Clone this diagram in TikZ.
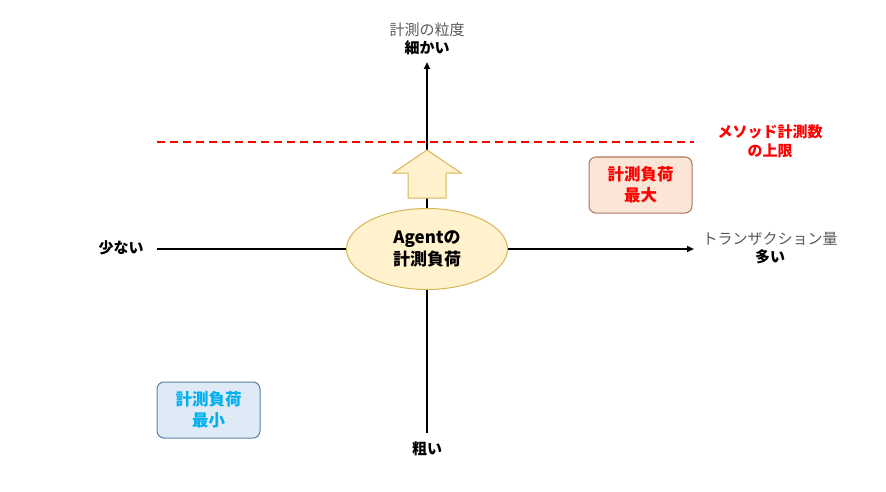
\documentclass[tikz,border=0pt]{standalone}
\usepackage{fontspec}
\setmainfont{Noto Sans CJK JP}
\usetikzlibrary{arrows.meta,shapes.geometric}
\definecolor{yfill}{HTML}{FFF2CC}
\definecolor{ydraw}{HTML}{D6B656}
\definecolor{rfill}{HTML}{FBE5D6}
\definecolor{rdraw}{HTML}{A9765C}
\definecolor{bfill}{HTML}{DEEBF7}
\definecolor{bdraw}{HTML}{5B7FA6}
\definecolor{cyantext}{HTML}{00B0F0}
\definecolor{redtext}{HTML}{FF0000}
\definecolor{graytext}{HTML}{595959}
\tikzset{
  axis/.style={line width=1.8pt,-{Triangle[length=7pt,width=6pt]}},
  lbl/.style={font=\fontsize{15}{18}\selectfont,align=center,inner sep=0pt},
  blbl/.style={lbl,font=\fontsize{15}{18}\selectfont\bfseries},
  quad/.style={rounded corners=7pt,line width=1pt,minimum width=103pt,minimum height=56pt,align=center,font=\fontsize{16.5}{21}\selectfont\bfseries,inner sep=0pt}
}
\begin{document}
\begin{tikzpicture}[x=1pt,y=-1pt]
\useasboundingbox (0,0) rectangle (886,492);
% nodes for axis ends
\coordinate (vbot) at (427,433);
\coordinate (vtop) at (427,62);
\coordinate (hleft) at (157,249);
\coordinate (hright) at (694,249);
\coordinate (dl) at (157,142);
\coordinate (dr) at (694,142);
% axes
\draw[axis] (vbot) -- (vtop);
\draw[axis] (hleft) -- (hright);
% dashed limit
\draw[redtext,line width=1.5pt,dash pattern=on 8pt off 5pt] (dl) -- (dr);
% block arrow
\draw[fill=yfill,draw=ydraw,line width=1pt] (408,198) -- (408,173) -- (393,173) -- (427,150) -- (461,173) -- (446,173) -- (446,198) -- cycle;
% ellipse
\node[ellipse,fill=yfill,draw=ydraw,line width=1pt,minimum width=161pt,minimum height=81pt,inner sep=0pt,align=center,font=\fontsize{17}{22}\selectfont\bfseries] (agent) at (427,249) {Agentの\\計測負荷};
% labels
\node[lbl,text=graytext] (ytitle) at (427,30) {計測の粒度};
\node[blbl] (yhi) at (427,48) {細かい};
\node[blbl] (ylo) at (427,449) {粗い};
\node[blbl] (xlo) at (121,248) {少ない};
\node[lbl,text=graytext] (xtitle) at (770,239) {トランザクション量};
\node[blbl] (xhi) at (770,257) {多い};
\node[blbl,text=redtext,font=\fontsize{15}{19}\selectfont\bfseries] (limit) at (770,141) {メソッド計測数\\の上限};
% quadrant boxes
\node[quad,fill=rfill,draw=rdraw,text=redtext] (maxbox) at (640.5,185) {計測負荷\\最大};
\node[quad,fill=bfill,draw=bdraw,text=cyantext] (minbox) at (208.5,410) {計測負荷\\最小};
\end{tikzpicture}
\end{document}
